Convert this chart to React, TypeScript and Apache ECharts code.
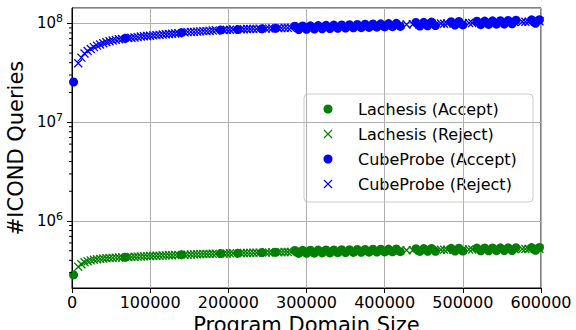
import React, { useEffect, useRef } from 'react';
import * as echarts from 'echarts';

// Program domain sizes of rejected / accepted instances
const rejectSizes = [
  8000, 12000, 16000, 20000, 24000, 28000, 32000, 36000, 40000, 44000,
  48000, 52000, 56000, 60000, 64000, 72000, 76000, 80000, 84000, 88000,
  92000, 96000, 100000, 104000, 108000, 112000, 116000, 120000, 124000, 128000,
  132000, 136000, 144000, 148000, 152000, 156000, 160000, 164000, 168000, 172000,
  176000, 180000, 184000, 194000, 198000, 202000, 206000, 216000, 220000, 224000,
  228000, 232000, 236000, 240000, 248000, 252000, 256000, 264000, 268000, 272000,
  276000, 280000, 294000, 300000, 304000, 308000, 312000, 316000, 326000, 340000,
  360000, 380000, 400000, 420000, 428000, 436000, 444000, 460000, 472000, 476000,
  480000, 488000, 500000, 508000, 512000, 530000, 550000, 566000, 576000, 580000,
  584000, 592000, 598000,
];
const lachesisReject = [
  3.45e5, 3.65e5, 3.82e5, 3.92e5, 4.0e5, 4.05e5, 4.1e5, 4.14e5, 4.17e5, 4.2e5,
  4.22e5, 4.24e5, 4.26e5, 4.28e5, 4.29e5, 4.32e5, 4.33e5, 4.35e5, 4.36e5, 4.37e5,
  4.39e5, 4.41e5, 4.42e5, 4.44e5, 4.45e5, 4.46e5, 4.47e5, 4.49e5, 4.5e5, 4.51e5,
  4.53e5, 4.54e5, 4.56e5, 4.57e5, 4.58e5, 4.6e5, 4.61e5, 4.62e5, 4.63e5, 4.64e5,
  4.65e5, 4.66e5, 4.67e5, 4.69e5, 4.7e5, 4.71e5, 4.72e5, 4.74e5, 4.75e5, 4.75e5,
  4.76e5, 4.77e5, 4.78e5, 4.79e5, 4.8e5, 4.81e5, 4.82e5, 4.83e5, 4.84e5, 4.85e5,
  4.86e5, 4.86e5, 4.89e5, 4.9e5, 4.9e5, 4.91e5, 4.91e5, 4.92e5, 4.93e5, 4.95e5,
  4.97e5, 5.0e5, 5.02e5, 5.05e5, 5.06e5, 5.07e5, 5.08e5, 5.1e5, 5.11e5, 5.11e5,
  5.12e5, 5.13e5, 5.14e5, 5.15e5, 5.15e5, 5.17e5, 5.19e5, 5.2e5, 5.21e5, 5.22e5,
  5.22e5, 5.23e5, 5.24e5,
];
const cubeProbeReject = [
  3.95e7, 4.5e7, 4.95e7, 5.25e7, 5.5e7, 5.75e7, 5.95e7, 6.1e7, 6.3e7, 6.45e7,
  6.6e7, 6.7e7, 6.8e7, 6.9e7, 6.95e7, 7.1e7, 7.15e7, 7.2e7, 7.25e7, 7.35e7,
  7.4e7, 7.45e7, 7.5e7, 7.55e7, 7.6e7, 7.65e7, 7.7e7, 7.75e7, 7.8e7, 7.85e7,
  7.9e7, 7.95e7, 8.1e7, 8.15e7, 8.2e7, 8.2e7, 8.25e7, 8.3e7, 8.35e7, 8.35e7,
  8.4e7, 8.45e7, 8.5e7, 8.55e7, 8.6e7, 8.6e7, 8.65e7, 8.7e7, 8.7e7, 8.75e7,
  8.75e7, 8.8e7, 8.8e7, 8.85e7, 8.85e7, 8.9e7, 8.9e7, 8.95e7, 8.95e7, 9.0e7,
  9.0e7, 9.0e7, 9.05e7, 9.1e7, 9.1e7, 9.15e7, 9.15e7, 9.2e7, 9.2e7, 9.3e7,
  9.4e7, 9.5e7, 9.6e7, 9.7e7, 9.75e7, 9.8e7, 9.8e7, 9.9e7, 9.95e7, 9.9e7,
  9.95e7, 1.0e8, 1.0e8, 1.01e8, 1.01e8, 1.02e8, 1.02e8, 1.03e8, 1.04e8, 1.04e8,
  1.04e8, 1.05e8, 1.05e8,
];
const acceptSizes = [
  2000, 68000, 140000, 190000, 212000, 243000, 260000,
  285000, 290000, 295000, 300000, 305000, 310000, 315000, 320000, 325000, 330000,
  335000, 340000, 345000, 350000, 355000, 360000, 365000, 370000, 375000, 380000,
  385000, 390000, 395000, 400000, 405000, 410000, 415000, 420000,
  440000, 445000, 450000, 455000, 460000, 465000,
  485000, 490000, 495000, 500000,
  518000, 523000, 528000, 533000, 538000, 543000, 548000, 553000, 558000, 563000, 568000,
  588000, 593000, 598000,
];
const lachesisAccept = [
  2.85e5, 4.3e5, 4.56e5, 4.68e5, 4.72e5, 4.79e5, 4.83e5,
  5.04e5, 4.7e5, 5.05e5, 4.72e5, 5.06e5, 4.73e5, 5.08e5, 4.75e5, 5.09e5, 4.76e5,
  5.1e5, 4.78e5, 5.12e5, 4.8e5, 5.13e5, 4.81e5, 5.15e5, 4.83e5, 5.16e5, 4.84e5,
  5.18e5, 4.86e5, 5.19e5, 4.87e5, 5.2e5, 4.88e5, 5.22e5, 4.9e5,
  5.25e5, 4.92e5, 5.26e5, 4.93e5, 5.27e5, 4.94e5,
  5.29e5, 4.96e5, 5.3e5, 4.97e5,
  5.32e5, 4.99e5, 5.33e5, 5.0e5, 5.34e5, 5.01e5, 5.35e5, 5.02e5, 5.36e5, 5.03e5, 5.37e5,
  5.39e5, 5.05e5, 5.4e5,
];
const cubeProbeAccept = [
  2.55e7, 7.05e7, 8.05e7, 8.55e7, 8.65e7, 8.8e7, 8.9e7,
  9.35e7, 8.65e7, 9.4e7, 8.7e7, 9.45e7, 8.75e7, 9.5e7, 8.8e7, 9.55e7, 8.85e7,
  9.6e7, 8.9e7, 9.65e7, 8.95e7, 9.7e7, 9.0e7, 9.75e7, 9.05e7, 9.8e7, 9.1e7,
  9.85e7, 9.15e7, 9.9e7, 9.2e7, 9.95e7, 9.25e7, 1.0e8, 9.3e7,
  1.02e8, 9.4e7, 1.025e8, 9.45e7, 1.03e8, 9.5e7,
  1.04e8, 9.6e7, 1.045e8, 9.65e7,
  1.05e8, 9.7e7, 1.055e8, 9.75e7, 1.06e8, 9.8e7, 1.065e8, 9.85e7, 1.07e8, 9.9e7, 1.075e8,
  1.085e8, 1.0e8, 1.09e8,
];
const minorTickValues = [
  3e5, 4e5, 5e5, 6e5, 7e5, 8e5, 9e5,
  2e6, 3e6, 4e6, 5e6, 6e6, 7e6, 8e6, 9e6,
  2e7, 3e7, 4e7, 5e7, 6e7, 7e7, 8e7, 9e7,
];
const legendNames = ['Lachesis (Accept)', 'Lachesis (Reject)', 'CubeProbe (Accept)', 'CubeProbe (Reject)'];

const FONT = 'DejaVu Sans';
const GREEN = '#008000';
const BLUE = '#0000ff';
const CROSS = 'path://M0,0L10,10M10,0L0,10';

const pairs = (xs: number[], ys: number[]) => xs.map((x, i) => [x, ys[i]]);

function legendGraphic() {
  const colors = [GREEN, GREEN, BLUE, BLUE];
  const kinds = ['dot', 'cross', 'dot', 'cross'];
  const children: any[] = [
    {
      type: 'rect', shape: { x: 304, y: 94, width: 229, height: 108, r: 4 },
      style: { fill: 'rgba(255,255,255,0.8)', stroke: '#cccccc', lineWidth: 1 },
    },
  ];
  legendNames.forEach((name, i) => {
    const cy = 109 + i * 25;
    const c = colors[i];
    if (kinds[i] === 'dot') {
      children.push({ type: 'circle', shape: { cx: 328, cy, r: 4.5 }, style: { fill: c } });
    } else {
      children.push({ type: 'line', shape: { x1: 324, y1: cy - 4, x2: 332, y2: cy + 4 }, style: { stroke: c, lineWidth: 1.1 } });
      children.push({ type: 'line', shape: { x1: 332, y1: cy - 4, x2: 324, y2: cy + 4 }, style: { stroke: c, lineWidth: 1.1 } });
    }
    children.push({
      type: 'text', x: 358, y: cy,
      style: { text: name, fontSize: 16, fontFamily: FONT, fill: '#000', textVerticalAlign: 'middle', verticalAlign: 'middle' },
    });
  });
  return [{ type: 'group', z: 10, children }];
}

export default function App() {
  const ref = useRef<HTMLDivElement>(null);
  useEffect(() => {
    document.body.style.margin = '0';
    if (!ref.current) return;
    const chart = echarts.init(ref.current, null, { renderer: 'svg' });
    const dotSeries = (name: string, color: string, data: number[][]) => ({
      type: 'scatter', name, data, symbol: 'circle', symbolSize: 9,
      itemStyle: { color, opacity: 1 }, z: 3,
    });
    const crossSeries = (name: string, color: string, data: number[][]) => ({
      type: 'scatter', name, data, symbol: CROSS, symbolSize: 8,
      itemStyle: { color, borderColor: color, borderWidth: 1.3, opacity: 1 }, z: 2,
    });
    chart.setOption({
      animation: false,
      textStyle: { fontFamily: FONT },
      grid: {
        left: 72, right: 35, top: 8, bottom: 42,
        outerBoundsMode: 'none', containLabel: false,
        show: true, borderColor: '#000', borderWidth: 1, backgroundColor: 'transparent',
      },
      xAxis: {
        type: 'value', min: 0, max: 600000, interval: 100000,
        name: 'Program Domain Size', nameLocation: 'middle', nameGap: 23,
        nameTextStyle: { fontSize: 21, color: '#000', fontFamily: FONT },
        axisLine: { show: true, lineStyle: { color: '#000', width: 1 } },
        axisTick: { show: true, length: 5, lineStyle: { color: '#000' } },
        axisLabel: { fontSize: 16, color: '#000', margin: 6, fontFamily: FONT, formatter: (v: number) => String(v) },
        splitLine: { show: true, lineStyle: { color: '#b0b0b0', width: 1 } },
      },
      yAxis: {
        type: 'log', logBase: 10, min: 2.1e5, max: 1.43e8,
        name: '#ICOND Queries', nameLocation: 'middle', nameGap: 35,
        nameTextStyle: { fontSize: 21, color: '#000', fontFamily: FONT },
        axisLine: { show: true, lineStyle: { color: '#000', width: 1 } },
        axisTick: { show: true, length: 5, lineStyle: { color: '#000' } },
        axisLabel: {
          color: '#000', margin: 9,
          showMinLabel: false, showMaxLabel: false,
          formatter: (v: number) => {
            const e = Math.log10(v);
            const r = Math.round(e);
            if (Math.abs(e - r) > 1e-6) return '';
            return `{b|10}{s|${r}}`;
          },
          rich: {
            b: { fontSize: 15, fontFamily: FONT, color: '#000', lineHeight: 20 },
            s: { fontSize: 11, fontFamily: FONT, color: '#000', lineHeight: 11, verticalAlign: 'top' },
          },
        },
        splitLine: { show: true, lineStyle: { color: '#b0b0b0', width: 1 } },
      },
      graphic: legendGraphic(),
      series: [
        dotSeries(legendNames[0], GREEN, pairs(acceptSizes, lachesisAccept)),
        crossSeries(legendNames[1], GREEN, pairs(rejectSizes, lachesisReject)),
        dotSeries(legendNames[2], BLUE, pairs(acceptSizes, cubeProbeAccept)),
        crossSeries(legendNames[3], BLUE, pairs(rejectSizes, cubeProbeReject)),
        {
          type: 'custom', name: 'minorTicks', silent: true, z: 5,
          data: minorTickValues.map((v) => [0, v]),
          renderItem: (params: any, api: any) => {
            const p = api.coord([api.value(0), api.value(1)]);
            return {
              type: 'line',
              shape: { x1: p[0] - 3, y1: p[1], x2: p[0], y2: p[1] },
              style: { stroke: '#000', lineWidth: 1 },
            };
          },
        },
      ],
    });
    return () => chart.dispose();
  }, []);
  return <div ref={ref} style={{ width: 576, height: 330 }} />;
}
